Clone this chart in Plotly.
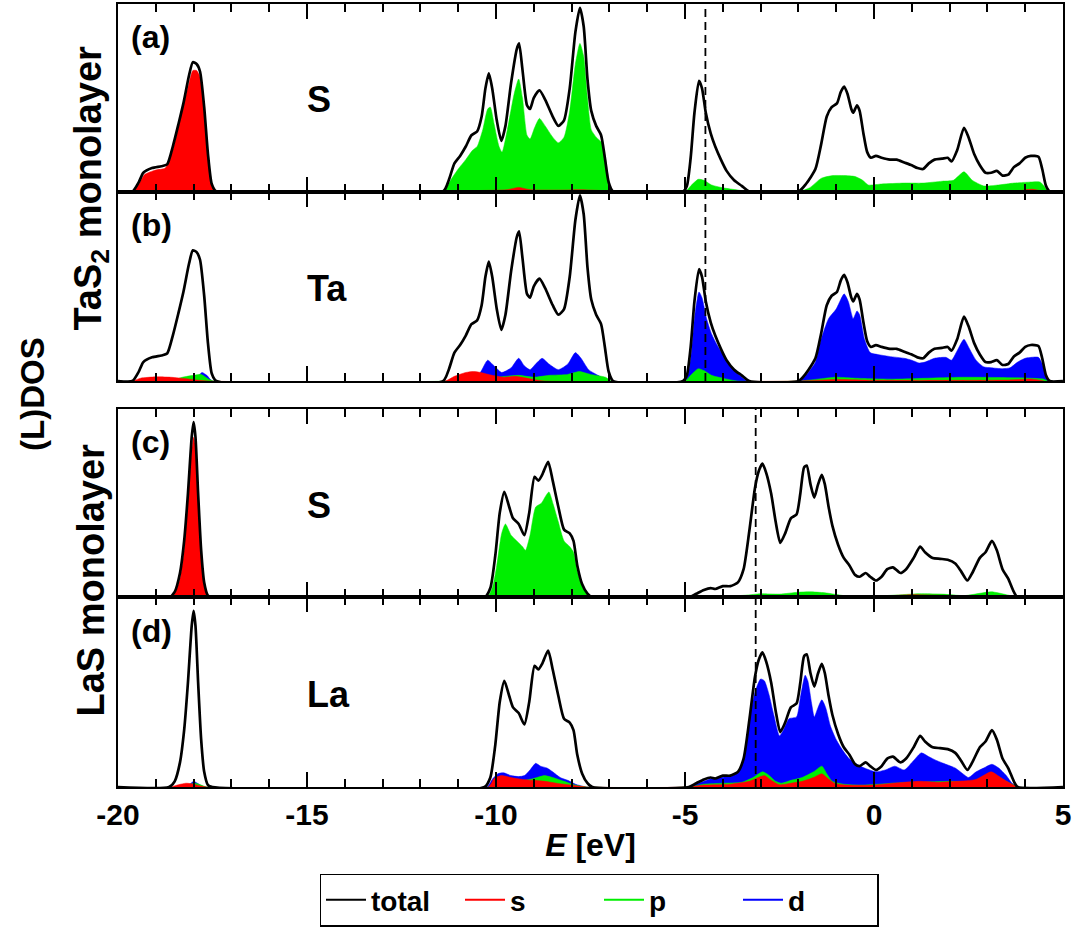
import plotly.graph_objects as go

# ---------------- data (energies in eV, DOS in arbitrary units) ----------------
E_RANGE = [-20, 5]
E_FERMI_TAS2 = -4.46
E_FERMI_LAS = -3.13

# TaS2 monolayer: total DOS (panels a and b)
tas2_total = [
    (-20, 0), (-19.62, 0), (-19.45, 0.05), (-19.33, 0.10), (-19.1, 0.125), (-18.85, 0.135),
    (-18.7, 0.145), (-18.55, 0.24), (-18.4, 0.36), (-18.27, 0.47), (-18.12, 0.62),
    (-18.02, 0.69), (-17.92, 0.68), (-17.83, 0.64), (-17.72, 0.45), (-17.62, 0.2),
    (-17.52, 0.04), (-17.4, 0),
    (-11.4, 0), (-11.25, 0.06), (-11.1, 0.15), (-10.95, 0.19), (-10.8, 0.24), (-10.65, 0.30),
    (-10.5, 0.32), (-10.38, 0.40), (-10.28, 0.55), (-10.19, 0.63), (-10.1, 0.55), (-9.98, 0.38),
    (-9.86, 0.27), (-9.75, 0.35), (-9.6, 0.58), (-9.45, 0.76), (-9.39, 0.79), (-9.3, 0.65),
    (-9.18, 0.46), (-9.1, 0.44), (-9.0, 0.50), (-8.85, 0.54), (-8.7, 0.49), (-8.5, 0.40),
    (-8.35, 0.35), (-8.2, 0.38), (-8.05, 0.55), (-7.9, 0.85), (-7.78, 0.98), (-7.68, 0.88),
    (-7.58, 0.60), (-7.48, 0.43), (-7.35, 0.35), (-7.22, 0.30), (-7.12, 0.18), (-7.02, 0.05),
    (-6.9, 0),
    (-5.05, 0), (-4.95, 0.03), (-4.85, 0.18), (-4.75, 0.42), (-4.63, 0.59), (-4.55, 0.55),
    (-4.45, 0.42), (-4.32, 0.31), (-4.2, 0.24), (-4.05, 0.17), (-3.9, 0.11), (-3.7, 0.06),
    (-3.5, 0.03), (-3.3, 0),
    (-2.0, 0), (-1.8, 0.04), (-1.55, 0.12), (-1.4, 0.25), (-1.25, 0.40), (-1.12, 0.45),
    (-0.98, 0.47), (-0.88, 0.53), (-0.79, 0.56), (-0.7, 0.52), (-0.6, 0.44), (-0.55, 0.42),
    (-0.45, 0.46), (-0.38, 0.43), (-0.28, 0.31), (-0.18, 0.21), (-0.08, 0.18), (0.05, 0.19),
    (0.2, 0.18), (0.42, 0.17), (0.6, 0.17), (0.8, 0.155), (1.0, 0.14), (1.15, 0.125),
    (1.3, 0.12), (1.45, 0.15), (1.6, 0.17), (1.8, 0.175), (1.95, 0.18), (2.05, 0.16),
    (2.2, 0.22), (2.38, 0.34), (2.5, 0.29), (2.65, 0.2), (2.8, 0.14), (2.95, 0.10),
    (3.1, 0.10), (3.25, 0.11), (3.4, 0.085), (3.55, 0.09), (3.7, 0.13), (3.85, 0.15),
    (4.0, 0.18), (4.15, 0.19), (4.35, 0.185), (4.45, 0.12), (4.55, 0.03), (4.65, 0), (5, 0),
]

# (a) S in TaS2
a_S_s = [
    (-19.62, 0), (-19.45, 0.04), (-19.3, 0.09), (-19.0, 0.115), (-18.75, 0.125), (-18.55, 0.22),
    (-18.3, 0.43), (-18.12, 0.58), (-18.02, 0.645), (-17.92, 0.645), (-17.83, 0.61),
    (-17.72, 0.43), (-17.62, 0.19), (-17.52, 0.03), (-17.42, 0),
    (-11.3, 0), (-10.5, 0.005), (-9.7, 0.01), (-9.4, 0.022), (-9.1, 0.01), (-8.2, 0.008),
    (-7.8, 0.01), (-7.2, 0.005), (-6.95, 0),
    (3.6, 0), (4.2, 0.012), (4.5, 0),
]
a_S_p = [
    (-11.35, 0), (-11.2, 0.06), (-11.0, 0.12), (-10.8, 0.17), (-10.62, 0.22), (-10.5, 0.24),
    (-10.35, 0.33), (-10.22, 0.44), (-10.15, 0.45), (-10.05, 0.36), (-9.92, 0.24),
    (-9.84, 0.21), (-9.7, 0.33), (-9.52, 0.52), (-9.4, 0.60), (-9.3, 0.50), (-9.18, 0.30),
    (-9.1, 0.28), (-8.98, 0.34), (-8.85, 0.39), (-8.7, 0.35), (-8.5, 0.29), (-8.35, 0.26),
    (-8.2, 0.29), (-8.05, 0.43), (-7.9, 0.68), (-7.78, 0.79), (-7.68, 0.72), (-7.58, 0.50),
    (-7.48, 0.33), (-7.35, 0.29), (-7.2, 0.26), (-7.1, 0.17), (-7.0, 0.04), (-6.92, 0),
    (-5.0, 0), (-4.85, 0.03), (-4.65, 0.065), (-4.5, 0.06), (-4.3, 0.035), (-4.0, 0.02),
    (-3.6, 0.008), (-3.3, 0),
    (-2.0, 0), (-1.7, 0.02), (-1.4, 0.07), (-1.1, 0.085), (-0.8, 0.085), (-0.5, 0.08),
    (-0.3, 0.06), (-0.15, 0.035), (0.2, 0.04), (0.8, 0.045), (1.3, 0.045), (1.8, 0.055),
    (2.1, 0.06), (2.38, 0.105), (2.6, 0.06), (2.9, 0.03), (3.3, 0.035), (3.7, 0.045),
    (4.1, 0.05), (4.4, 0.05), (4.6, 0),
]

# (b) Ta in TaS2
b_Ta_s = [
    (-19.6, 0), (-19.4, 0.015), (-19.0, 0.022), (-18.6, 0.02), (-18.2, 0.012), (-17.9, 0.005),
    (-17.6, 0),
    (-11.35, 0), (-11.1, 0.025), (-10.8, 0.045), (-10.6, 0.05), (-10.4, 0.045), (-10.1, 0.03),
    (-9.8, 0.02), (-9.5, 0.025), (-9.3, 0.02), (-9.0, 0.008), (-8.7, 0),
    (-2.0, 0), (-1.0, 0.008), (0.0, 0.004), (3.5, 0.005), (4.2, 0.01), (4.5, 0),
]
b_Ta_p = [
    (-18.6, 0), (-18.3, 0.02), (-18.0, 0.03), (-17.8, 0.035), (-17.6, 0.01), (-17.45, 0),
    (-11.2, 0), (-10.6, 0.01), (-10.0, 0.02), (-9.4, 0.03), (-9.0, 0.02), (-8.6, 0.03),
    (-8.1, 0.035), (-7.8, 0.05), (-7.5, 0.035), (-7.1, 0.02), (-6.95, 0),
    (-5.0, 0), (-4.85, 0.03), (-4.65, 0.065), (-4.5, 0.055), (-4.3, 0.03), (-4.0, 0.015),
    (-3.6, 0),
    (-2.0, 0), (-1.5, 0.01), (-1.0, 0.02), (-0.5, 0.015), (0.5, 0.01), (2.4, 0.02),
    (4.5, 0.01), (4.6, 0),
]
b_Ta_d = [
    (-18.1, 0), (-17.9, 0.02), (-17.78, 0.045), (-17.65, 0.03), (-17.5, 0),
    (-10.6, 0), (-10.4, 0.05), (-10.22, 0.11), (-10.05, 0.08), (-9.85, 0.045), (-9.6, 0.07),
    (-9.4, 0.12), (-9.25, 0.08), (-9.1, 0.06), (-8.95, 0.09), (-8.78, 0.12), (-8.6, 0.09),
    (-8.35, 0.06), (-8.1, 0.09), (-7.9, 0.15), (-7.75, 0.12), (-7.55, 0.06), (-7.3, 0.03),
    (-7.0, 0),
    (-5.0, 0), (-4.85, 0.12), (-4.75, 0.33), (-4.63, 0.47), (-4.55, 0.44), (-4.43, 0.33),
    (-4.3, 0.25), (-4.15, 0.19), (-4.0, 0.14), (-3.85, 0.09), (-3.6, 0.04), (-3.35, 0),
    (-2.0, 0), (-1.8, 0.03), (-1.55, 0.1), (-1.4, 0.22), (-1.2, 0.33), (-1.0, 0.38),
    (-0.88, 0.43), (-0.79, 0.46), (-0.68, 0.42), (-0.55, 0.33), (-0.45, 0.37), (-0.38, 0.35),
    (-0.25, 0.22), (-0.1, 0.15), (0.1, 0.14), (0.4, 0.13), (0.8, 0.12), (1.0, 0.11),
    (1.2, 0.095), (1.35, 0.10), (1.6, 0.12), (1.9, 0.125), (2.05, 0.11), (2.2, 0.16),
    (2.38, 0.22), (2.5, 0.18), (2.7, 0.11), (2.9, 0.075), (3.1, 0.07), (3.4, 0.065),
    (3.6, 0.07), (3.8, 0.10), (4.0, 0.12), (4.35, 0.125), (4.45, 0.09), (4.55, 0.02),
    (4.62, 0),
]

# LaS monolayer: total DOS (panels c and d)
las_total = [
    (-20, 0), (-18.65, 0), (-18.5, 0.03), (-18.36, 0.13), (-18.25, 0.3), (-18.15, 0.55),
    (-18.05, 0.85), (-18.0, 0.93), (-17.95, 0.85), (-17.88, 0.55), (-17.8, 0.25),
    (-17.72, 0.08), (-17.62, 0.01), (-17.5, 0),
    (-10.3, 0), (-10.15, 0.05), (-10.02, 0.22), (-9.9, 0.45), (-9.78, 0.56), (-9.65, 0.48),
    (-9.55, 0.42), (-9.4, 0.39), (-9.25, 0.33), (-9.12, 0.45), (-8.98, 0.64), (-8.88, 0.62),
    (-8.78, 0.65), (-8.62, 0.72), (-8.5, 0.62), (-8.35, 0.48), (-8.2, 0.36), (-8.05, 0.34),
    (-7.95, 0.30), (-7.85, 0.17), (-7.72, 0.07), (-7.58, 0.02), (-7.45, 0),
    (-4.9, 0), (-4.7, 0.02), (-4.5, 0.04), (-4.32, 0.05), (-4.2, 0.045), (-4.0, 0.06),
    (-3.8, 0.06), (-3.6, 0.08), (-3.45, 0.15), (-3.3, 0.35), (-3.15, 0.58), (-3.05, 0.67),
    (-2.95, 0.71), (-2.85, 0.66), (-2.72, 0.55), (-2.6, 0.40), (-2.48, 0.29), (-2.35, 0.34),
    (-2.2, 0.42), (-2.05, 0.44), (-1.95, 0.55), (-1.85, 0.69), (-1.78, 0.70), (-1.68, 0.60),
    (-1.58, 0.53), (-1.48, 0.60), (-1.38, 0.65), (-1.3, 0.60), (-1.2, 0.48), (-1.1, 0.38),
    (-0.95, 0.28), (-0.8, 0.21), (-0.65, 0.17), (-0.5, 0.12), (-0.38, 0.11), (-0.22, 0.13),
    (-0.1, 0.11), (0.05, 0.09), (0.2, 0.11), (0.35, 0.15), (0.5, 0.16), (0.7, 0.13),
    (0.85, 0.15), (1.05, 0.21), (1.22, 0.27), (1.35, 0.24), (1.55, 0.21), (1.75, 0.205),
    (1.95, 0.20), (2.15, 0.18), (2.3, 0.14), (2.47, 0.09), (2.6, 0.13), (2.8, 0.21),
    (2.95, 0.24), (3.12, 0.30), (3.25, 0.25), (3.4, 0.15), (3.55, 0.1), (3.7, 0.03),
    (3.8, 0), (5, 0),
]

# (c) S in LaS
c_S_s = [
    (-18.65, 0), (-18.5, 0.02), (-18.36, 0.10), (-18.25, 0.25), (-18.15, 0.5), (-18.05, 0.78),
    (-18.0, 0.85), (-17.95, 0.80), (-17.88, 0.52), (-17.8, 0.23), (-17.72, 0.07),
    (-17.62, 0.01), (-17.5, 0),
    (-10.2, 0), (-9.8, 0.006), (-9.0, 0.005), (-8.0, 0.003), (-7.5, 0),
    (-0.5, 0), (0.3, 0.008), (1.0, 0.015), (1.6, 0.012), (2.2, 0.01), (3.0, 0.008), (3.6, 0),
]
c_S_p = [
    (-18.3, 0), (-18.0, 0.01), (-17.7, 0),
    (-10.25, 0), (-10.1, 0.05), (-9.98, 0.17), (-9.85, 0.34), (-9.75, 0.39), (-9.6, 0.33),
    (-9.45, 0.30), (-9.3, 0.27), (-9.22, 0.25), (-9.1, 0.33), (-8.95, 0.48), (-8.8, 0.50),
    (-8.68, 0.54), (-8.6, 0.56), (-8.48, 0.49), (-8.35, 0.40), (-8.2, 0.30), (-8.05, 0.27),
    (-7.95, 0.24), (-7.85, 0.14), (-7.72, 0.06), (-7.58, 0.015), (-7.45, 0),
    (-4.8, 0), (-4.2, 0.005), (-3.4, 0.012), (-3.0, 0.02), (-2.5, 0.018), (-2.0, 0.028),
    (-1.7, 0.03), (-1.3, 0.025), (-0.8, 0.01), (-0.3, 0.005), (0.5, 0.012), (1.2, 0.02),
    (1.8, 0.018), (2.4, 0.01), (3.1, 0.03), (3.5, 0.015), (3.8, 0),
]

# (d) La in LaS
d_La_s = [
    (-18.6, 0), (-18.4, 0.012), (-18.2, 0.02), (-18.0, 0.015), (-17.8, 0.005), (-17.65, 0),
    (-10.2, 0), (-10.05, 0.045), (-9.85, 0.06), (-9.6, 0.05), (-9.3, 0.04), (-9.0, 0.035),
    (-8.7, 0.03), (-8.4, 0.02), (-8.0, 0.01), (-7.6, 0),
    (-4.9, 0), (-4.5, 0.01), (-3.8, 0.015), (-3.3, 0.03), (-3.0, 0.055), (-2.9, 0.06),
    (-2.75, 0.04), (-2.5, 0.012), (-2.2, 0.02), (-1.9, 0.03), (-1.6, 0.05), (-1.38, 0.07),
    (-1.25, 0.05), (-1.05, 0.02), (-0.7, 0.01), (0.0, 0.01), (0.5, 0.02), (1.2, 0.03),
    (1.7, 0.025), (2.2, 0.03), (2.7, 0.04), (3.1, 0.08), (3.35, 0.05), (3.6, 0.02), (3.8, 0),
]
d_La_p = [
    (-18.4, 0), (-18.1, 0.015), (-17.95, 0.02), (-17.8, 0.01), (-17.65, 0),
    (-10.2, 0), (-10.0, 0.04), (-9.8, 0.055), (-9.6, 0.045), (-9.3, 0.035), (-9.0, 0.045),
    (-8.72, 0.06), (-8.5, 0.05), (-8.2, 0.03), (-7.9, 0.01), (-7.6, 0),
    (-4.9, 0), (-4.5, 0.015), (-4.0, 0.02), (-3.5, 0.025), (-3.2, 0.05), (-2.95, 0.08),
    (-2.8, 0.065), (-2.6, 0.03), (-2.45, 0.02), (-2.2, 0.035), (-1.9, 0.05), (-1.6, 0.08),
    (-1.38, 0.11), (-1.25, 0.07), (-1.1, 0.03), (-0.8, 0.015), (-0.3, 0.01), (0.5, 0.02),
    (1.2, 0.025), (2.0, 0.03), (2.6, 0.03), (3.1, 0.07), (3.4, 0.04), (3.7, 0.01), (3.8, 0),
]
d_La_d = [
    (-18.3, 0), (-18.1, 0.015), (-18.0, 0.03), (-17.9, 0.02), (-17.7, 0),
    (-10.25, 0), (-10.1, 0.04), (-9.95, 0.07), (-9.8, 0.075), (-9.6, 0.06), (-9.4, 0.055),
    (-9.25, 0.06), (-9.1, 0.09), (-8.95, 0.125), (-8.82, 0.11), (-8.65, 0.10), (-8.5, 0.08),
    (-8.3, 0.05), (-8.1, 0.035), (-7.9, 0.015), (-7.6, 0),
    (-4.9, 0), (-4.7, 0.015), (-4.5, 0.03), (-4.3, 0.045), (-4.1, 0.05), (-3.8, 0.055),
    (-3.6, 0.075), (-3.45, 0.14), (-3.3, 0.35), (-3.15, 0.50), (-3.0, 0.57), (-2.9, 0.56),
    (-2.78, 0.49), (-2.65, 0.38), (-2.5, 0.27), (-2.4, 0.30), (-2.25, 0.36), (-2.05, 0.37),
    (-1.95, 0.47), (-1.82, 0.59), (-1.75, 0.56), (-1.65, 0.44), (-1.58, 0.37), (-1.48, 0.42),
    (-1.38, 0.46), (-1.28, 0.42), (-1.15, 0.32), (-1.0, 0.25), (-0.85, 0.2), (-0.66, 0.15),
    (-0.45, 0.12), (-0.25, 0.1), (0.05, 0.08), (0.3, 0.09), (0.55, 0.11), (0.8, 0.09),
    (1.05, 0.14), (1.25, 0.18), (1.45, 0.16), (1.65, 0.14), (1.9, 0.12), (2.15, 0.1),
    (2.35, 0.07), (2.5, 0.05), (2.7, 0.08), (2.9, 0.1), (3.12, 0.12), (3.3, 0.1),
    (3.5, 0.06), (3.65, 0.02), (3.8, 0),
]

PANEL_LETTERS = ["(a)", "(b)", "(c)", "(d)"]
ELEMENTS = ["S", "Ta", "S", "La"]
SYSTEMS = ["TaS<sub>2</sub> monolayer", "LaS monolayer"]
LEGEND_NAMES = ["total", "s", "p", "d"]
TICK_VALUES = [-20, -15, -10, -5, 0, 5]

# ---------------- styling ----------------
FONT = "Liberation Sans, Arial, Helvetica, sans-serif"
COL = {"total": "#000000", "s": "#ff0000", "p": "#00ee00", "d": "#0000ff"}

W, H = 1082, 929
ML, MR, MT, MB = 118, 19, 2, 142
plot_h = H - MT - MB
pw = W - ML - MR
# panel pixel extents (top, bottom) measured from the top of the page
panel_px = [(2, 190), (190, 380), (408, 597), (597, 787)]
def dom(top, bot):
    return [(H - MB - bot) / plot_h, (H - MB - top) / plot_h]
def py(pix):
    return (H - MB - pix) / plot_h
domains = [dom(t, b) for t, b in panel_px]

panels = [
    {"total": tas2_total, "s": a_S_s, "p": a_S_p, "d": None},
    {"total": tas2_total, "s": b_Ta_s, "p": b_Ta_p, "d": b_Ta_d},
    {"total": las_total, "s": c_S_s, "p": c_S_p, "d": None},
    {"total": las_total, "s": d_La_s, "p": d_La_p, "d": d_La_d},
]

def xy(pairs):
    return [p[0] for p in pairs], [p[1] for p in pairs]

fig = go.Figure()
for i, pan in enumerate(panels):
    suf = "" if i == 0 else str(i + 1)
    for orb in ["d", "p", "s"]:
        if pan[orb] is None:
            continue
        x, y = xy(pan[orb])
        fig.add_trace(go.Scatter(
            x=x, y=y, xaxis="x" + suf, yaxis="y" + suf, mode="lines",
            line=dict(color=COL[orb], width=0.5, shape="spline", smoothing=0.6),
            fill="tozeroy", fillcolor=COL[orb], showlegend=False, hoverinfo="skip"))
    x, y = xy(pan["total"])
    fig.add_trace(go.Scatter(
        x=x, y=y, xaxis="x" + suf, yaxis="y" + suf, mode="lines",
        line=dict(color=COL["total"], width=2.7, shape="spline", smoothing=0.6),
        showlegend=False, hoverinfo="skip"))

# legend-only entries (lines)
for name in LEGEND_NAMES:
    fig.add_trace(go.Scatter(x=[None], y=[None], mode="lines", name=name,
                             line=dict(color=COL[name], width=2)))

layout = dict(
    width=W, height=H, margin=dict(l=ML, r=MR, t=MT, b=MB),
    paper_bgcolor="white", plot_bgcolor="white",
    font=dict(family=FONT, size=30, color="black"),
    showlegend=True,
    legend=dict(orientation="h", x=(599 - ML) / pw, xanchor="center",
                y=py(927), yanchor="bottom",
                bordercolor="black", borderwidth=1.5, bgcolor="white",
                font=dict(size=28, weight="bold"), itemwidth=40,
                entrywidth=84, tracegroupgap=0),
)
for i in range(4):
    suf = "" if i == 0 else str(i + 1)
    layout["xaxis" + suf] = dict(
        range=E_RANGE, anchor="y" + suf, domain=[0, 1],
        tickmode="array", tickvals=TICK_VALUES, ticktext=[str(v) for v in TICK_VALUES],
        ticks="inside", ticklen=15, tickwidth=1.5, tickcolor="black",
        minor=dict(ticks="inside", ticklen=8, tickwidth=1.5, tickcolor="black", dtick=1, tick0=0),
        showline=True, linecolor="black", linewidth=2, mirror="allticks",
        showgrid=False, zeroline=False, showticklabels=(i == 3),
        tickfont=dict(size=30, weight="bold"),
    )
    layout["yaxis" + suf] = dict(
        range=[0, 1.0], domain=domains[i], anchor="x" + suf,
        showline=True, linecolor="black", linewidth=2, mirror=True,
        showgrid=False, zeroline=False, showticklabels=False, ticks="",
    )
layout["xaxis4"]["title"] = dict(text="<b><i>E</i> [eV]</b>", font=dict(size=32), standoff=4)
fig.update_layout(**layout)

# panel letters and element labels
for i in range(4):
    suf = "" if i == 0 else str(i + 1)
    fig.add_annotation(text="<b>%s</b>" % PANEL_LETTERS[i], xref="x%s domain" % suf,
                       yref="y%s domain" % suf, x=0.012, y=0.93, xanchor="left",
                       yanchor="top", showarrow=False, font=dict(size=32))
    fig.add_annotation(text="<b>%s</b>" % ELEMENTS[i], xref="x%s domain" % suf,
                       yref="y%s domain" % suf, x=0.198, y=0.49, xanchor="left",
                       yanchor="middle", showarrow=False, font=dict(size=36))

# y-axis titles
fig.add_annotation(text="<b>%s</b>" % SYSTEMS[0], textangle=-90, xref="paper", yref="paper",
                   x=(91 - ML) / pw, y=py(187),
                   xanchor="center", yanchor="middle", showarrow=False, font=dict(size=38))
fig.add_annotation(text="<b>%s</b>" % SYSTEMS[1], textangle=-90, xref="paper", yref="paper",
                   x=(91 - ML) / pw, y=py(580),
                   xanchor="center", yanchor="middle", showarrow=False, font=dict(size=38))
fig.add_annotation(text="<b>(L)DOS</b>", textangle=-90, xref="paper", yref="paper",
                   x=(32 - ML) / pw, y=py(393),
                   xanchor="center", yanchor="middle", showarrow=False, font=dict(size=33))

# Fermi levels (dashed)
fig.add_shape(type="line", xref="x", yref="paper", x0=E_FERMI_TAS2, x1=E_FERMI_TAS2,
              y0=domains[1][0], y1=domains[0][1], line=dict(color="black", width=1.8, dash="8px,5px"))
fig.add_shape(type="line", xref="x3", yref="paper", x0=E_FERMI_LAS, x1=E_FERMI_LAS,
              y0=domains[3][0], y1=domains[2][1], line=dict(color="black", width=1.8, dash="8px,5px"))

fig.write_html("out.html", config={"displayModeBar": False},
               post_script="document.body.style.margin='0';")
